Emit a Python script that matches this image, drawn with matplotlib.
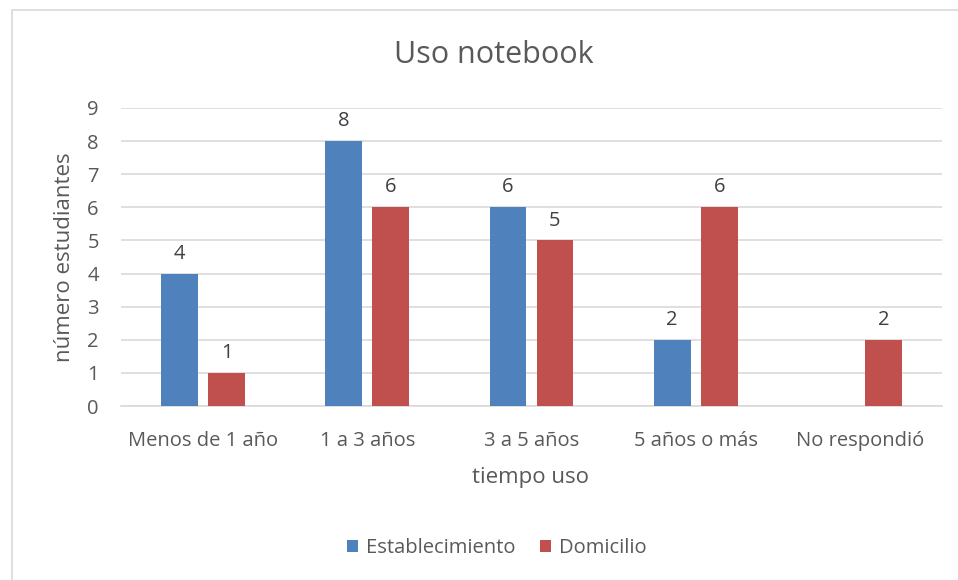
import matplotlib
matplotlib.use("Agg")
import matplotlib.pyplot as plt
import numpy as np
from matplotlib.patches import Rectangle

categories = ["Menos de 1 año", "1 a 3 años", "3 a 5 años", "5 años o más", "No respondió"]
establecimiento = [4, 8, 6, 2, 0]
domicilio = [1, 6, 5, 6, 2]
series_names = ["Establecimiento", "Domicilio"]
yticks = list(range(0, 10))

plt.rcParams['font.family'] = ['Open Sans', 'DejaVu Sans']
txt = '#595959'

fig = plt.figure(figsize=(9.58, 5.80), dpi=100)
ax = fig.add_axes([0.1263, 0.30, 0.857, 0.5138])

fig.patches.append(Rectangle((12/958, -0.1), 1.2, (580-10)/580 + 0.1,
                             transform=fig.transFigure, fill=False,
                             edgecolor='#D9D9D9', linewidth=1.2))

x = np.arange(len(categories))
w = 0.225
off = 0.143
b1 = ax.bar(x - off, establecimiento, w, color='#4F81BD', label=series_names[0], zorder=3)
b2 = ax.bar(x + off, domicilio, w, color='#C0504D', label=series_names[1], zorder=3)

for bars, vals in ((b1, establecimiento), (b2, domicilio)):
    for r, v in zip(bars, vals):
        if v == 0:
            continue
        ax.text(r.get_x() + r.get_width()/2, v + 0.3, str(v), ha='center', va='bottom',
                fontsize=14.5, color='#404040')

ax.set_xlim(-0.5, len(categories) - 0.5)
ax.set_ylim(0, 9)
ax.set_yticks(yticks)
ax.set_xticks(x)
ax.set_xticklabels(categories)
ax.tick_params(axis='both', length=0, labelsize=14.5, labelcolor=txt)
ax.tick_params(axis='x', pad=18)
ax.tick_params(axis='y', pad=16)
ax.grid(axis='y', color='#D9D9D9', linewidth=1.2, zorder=0)
for s in ['top', 'right', 'left']:
    ax.spines[s].set_visible(False)
ax.spines['bottom'].set_color('#D9D9D9')
ax.spines['bottom'].set_linewidth(1.2)

fig.text(494/958, 1 - 55/580, "Uso notebook", fontsize=22, color=txt, ha='center', va='center')
fig.text(530/958, 1 - 477/580, "tiempo uso", fontsize=16, color=txt, ha='center', va='center')
fig.text(65/958, 1 - 257/580, "número estudiantes", fontsize=16, color=txt, ha='center',
         va='center', rotation=90)

fig.legend(handles=[b1, b2], loc='center', bbox_to_anchor=(497/958, 1 - 548/580),
           ncol=2, frameon=False, fontsize=14.5, labelcolor=txt,
           handlelength=0.55, handleheight=0.55, handletextpad=0.4, columnspacing=1.2)

fig.savefig("out.png", dpi=100, facecolor='white')
